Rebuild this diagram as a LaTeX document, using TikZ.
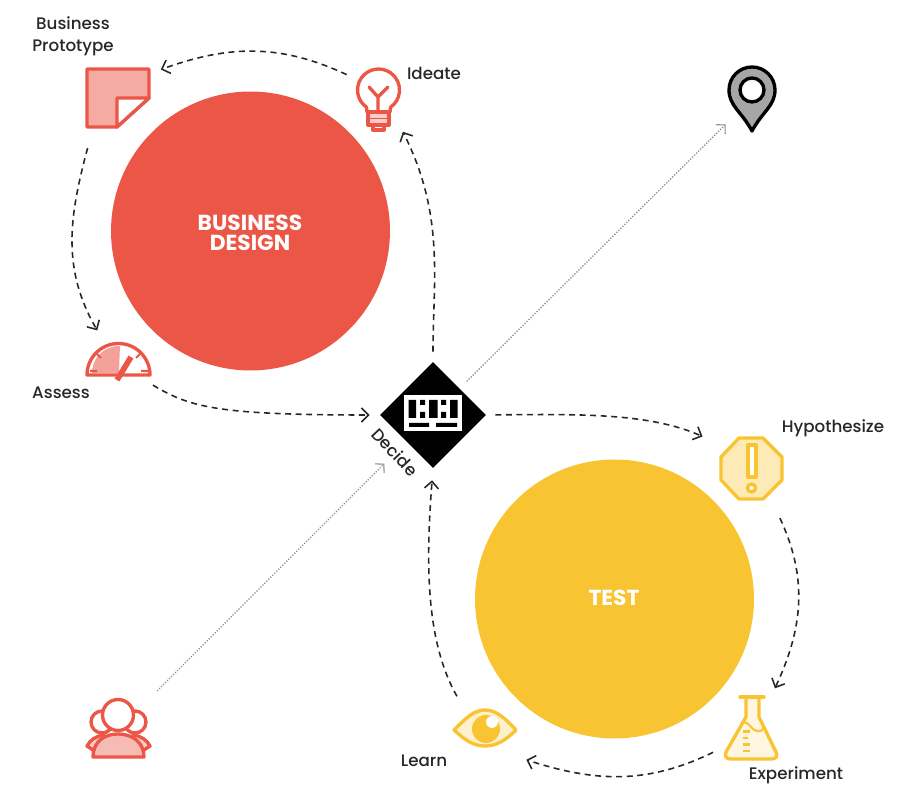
\documentclass[tikz,border=0pt]{standalone}
\usepackage{fontspec}
\setmainfont{Poppins}
\newfontfamily\labelfont{Poppins Medium}
\usetikzlibrary{arrows.meta,shapes.geometric}
\definecolor{bizred}{HTML}{EB5646}
\definecolor{testyellow}{HTML}{F8C431}
\definecolor{inktext}{HTML}{26262B}
\tikzset{
  labeltext/.style={text=inktext,font=\labelfont\fontsize{9.5pt}{12.4pt}\selectfont,align=center,inner sep=0pt},
  bigtext/.style={text=white,font=\fontsize{12.4pt}{11.4pt}\selectfont\bfseries,align=center,inner sep=0pt},
  hub/.style={circle,inner sep=0pt,minimum size=#1*0.04cm},
  flowline/.style={draw=inktext,line width=0.9pt,dash pattern=on 3.4pt off 2.6pt,
    -{Straight Barb[length=4pt,width=8pt,line width=0.9pt]}},
  dotline/.style={draw=gray!90,line width=0.75pt,dash pattern=on 0.7pt off 0.9pt,
    -{Straight Barb[length=3.6pt,width=7.5pt,line width=0.6pt]}},
  rediconline/.style={draw=bizred,line width=1.9pt,line join=round},
  yelliconline/.style={draw=testyellow,line width=1.9pt,line join=round}
}
\begin{document}
\begin{tikzpicture}[x=0.02cm,y=-0.02cm]
  \useasboundingbox (0,0) rectangle (921,807);
  % big circles
  \node[circle,fill=bizred,minimum size=5.58cm,inner sep=0pt] (bizcircle) at (250.5,231) {};
  \node[circle,fill=testyellow,minimum size=5.58cm,inner sep=0pt] (testcircle) at (614.5,599) {};
  \node[bigtext] (bizname) at (250,233) {BUSINESS\\DESIGN};
  \node[bigtext] (testname) at (614,598) {TEST};

  % centre diamond with keyboard
  \node[diamond,aspect=1,fill=black,minimum size=2.12cm,inner sep=0pt] (decide) at (433,415) {};
  \fill[white] (404,395) rectangle (462,431);
  \fill[black] (408.5,400) rectangle (416,418) (420,400) rectangle (425,405) (420,412) rectangle (425,418)
    (429,400) rectangle (437.5,418) (441,400) rectangle (446,405) (441,412) rectangle (446,418)
    (450,400) rectangle (457.5,418) (409,423) rectangle (429,427) (436,423) rectangle (457,427);
  \node[labeltext,rotate=-47] (decidetext) at (395,452) {Decide};

  % invisible places round the icons, for the connectors
  \node[hub=40] (ideate) at (378,100) {};
  \node[hub=54] (proto) at (118,103) {};
  \node[hub=40] (assess) at (118,365) {};
  \node[hub=57.5] (hypo) at (751,468) {};
  \node[hub=45.5] (experiment) at (752,728) {};
  \node[hub=47] (learn) at (488,732) {};
  \node[hub=37] (pin) at (752,98) {};
  \node[hub=55] (people) at (118,730) {};

  % prototype icon
  \draw[rediconline,fill=bizred!50] (87,69) -- (149,69) -- (149,98) -- (117,127) -- (87,127) -- cycle;
  \draw[rediconline,fill=white] (117,127) -- (117,98) -- (149,98) -- cycle;
  % bulb icon
  \draw[rediconline] (366.5,107.2) arc[start angle=125,end angle=415,radius=21] -- (390,112) -- (367,112) -- cycle;
  \draw[rediconline,line cap=round] (369,87) -- (378,97) -- (388,87) (378,97) -- (378,112);
  \draw[rediconline,fill=bizred!30] (368,112) rectangle (389,125);
  \draw[draw=bizred,line width=1pt] (368,118.5) -- (389,118.5);
  \draw[rediconline] (373,125) rectangle (384,130);
  % gauge icon
  \draw[rediconline,fill=white] (87,375) arc[start angle=180,end angle=360,radius=31.5] -- cycle;
  \fill[bizred!55] (92,373) arc[start angle=180,end angle=272,radius=27] -- (119,373) -- cycle;
  \draw[draw=bizred,line width=1.2pt] (90,371) -- (97,371) (148,371) -- (141,371)
    (96,353) -- (101,358) (141,353) -- (136,358);
  \draw[draw=bizred,line width=3.2pt] (131,357) -- (117,380);
  % pin icon
  \draw[black,line width=1.9pt,line join=round,fill=gray!70] (752,131)
    .. controls (742,112) and (729,106) .. (729,90)
    arc[start angle=180,end angle=360,radius=23]
    .. controls (775,106) and (762,112) .. (752,131) -- cycle;
  \draw[black,line width=1.9pt,fill=white] (752,90) circle[radius=12];
  % octagon icon
  \draw[yelliconline,fill=testyellow!35] (739,438) -- (763,438) -- (782,457) -- (782,480)
    -- (763,499) -- (739,499) -- (721,480) -- (721,457) -- cycle;
  \draw[yelliconline,fill=white] (748,445) rectangle (756,477);
  \draw[yelliconline,fill=white] (751.5,488) circle[radius=4];
  % flask icon
  \draw[yelliconline,fill=testyellow!15,line cap=round] (746,698) -- (746,717) -- (726,752)
    .. controls (724,757) and (727,759) .. (731,759) -- (771,759)
    .. controls (776,759) and (778,757) .. (776,752) -- (759,717) -- (759,698);
  \draw[yelliconline,line cap=round] (740,697) -- (764,697);
  \draw[yelliconline,line width=1.2pt] (741,723) .. controls (746,721) and (748,724) .. (751,727)
    .. controls (755,732) and (761,733) .. (764,728);
  \draw[draw=testyellow,line width=1.6pt] (743,731.5) -- (750,731.5) (743,738) -- (748,738)
    (743,744.5) -- (750,744.5) (743,751) -- (750,751);
  % eye icon
  \draw[yelliconline,fill=testyellow!25] (454,730) .. controls (466,718) and (474,710) .. (485,710)
    .. controls (496,710) and (505,718) .. (516,730)
    .. controls (505,741) and (496,746) .. (485,746)
    .. controls (474,746) and (466,741) .. (454,730) -- cycle;
  \fill[testyellow] (486,729) circle[radius=14];
  \fill[white] (492,722) circle[radius=6];
  % people icon
  \draw[rediconline,fill=white] (102,722) circle[radius=11] (135,722) circle[radius=11];
  \draw[rediconline,fill=bizred!30] (87,746) .. controls (90,740) and (96,736) .. (104,735) -- (104,745) -- (93,750) -- cycle;
  \draw[rediconline,fill=bizred!30] (150,746) .. controls (147,740) and (141,736) .. (133,735) -- (133,745) -- (144,750) -- cycle;
  \draw[rediconline,fill=white] (118,715) circle[radius=15.5];
  \draw[rediconline,fill=bizred!40] (93,757) .. controls (93,742) and (104,734) .. (118,734)
    .. controls (132,734) and (144,742) .. (144,757) -- cycle;

  % labels
  \node[labeltext] (prototext) at (73,36) {Business\\Prototype};
  \node[labeltext] (ideatetext) at (434,73) {Ideate};
  \node[labeltext] (assesstext) at (61,393) {Assess};
  \node[labeltext] (hypotext) at (833,428) {Hypothesize};
  \node[labeltext] (learntext) at (424,761) {Learn};
  \node[labeltext] (experimenttext) at (796,775) {Experiment};

  % connectors
  \draw[flowline] (ideate.141) to[out=155,in=20] (proto.38);
  \draw[flowline] (proto.-124) to[out=-105,in=120] (assess.121);
  \draw[flowline,shorten >=0.2cm] (assess.-30) .. controls (190,407) and (215,415) .. (decide.west);
  \draw[flowline,shorten <=0.18cm] (decide.east) .. controls (580,414) and (650,413) .. (hypo.147);
  \draw[flowline] (hypo.-60) to[out=-65,in=65] (experiment.60);
  \draw[flowline] (experiment.212) to[out=206,in=-18] (learn.-36);
  \draw[flowline,shorten >=0.24cm] (learn.131) .. controls (425,640) and (426,560) .. (decide.south);
  \draw[flowline,shorten <=0.2cm] (decide.north) .. controls (433,280) and (445,215) .. (ideate.-52);
  \draw[dotline,shorten <=0.2cm] (decide.north east) -- (pin.225);
  \draw[dotline,shorten >=0.62cm] (people.45) -- (decide.south west);
\end{tikzpicture}
\end{document}
